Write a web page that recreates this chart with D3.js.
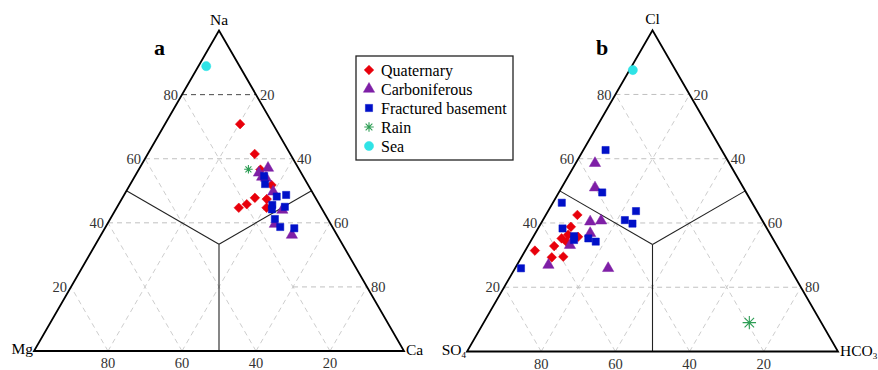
<!DOCTYPE html>
<html>
<head>
<meta charset="utf-8">
<script src="https://cdn.jsdelivr.net/npm/d3@7"></script>
<style>
  body { margin: 0; background: #fff; }
  text { font-family: "Liberation Serif", "DejaVu Serif", serif; }
</style>
</head>
<body>
<svg id="chart" width="878" height="370"></svg>
<script>
// values are [top, right] in percent, left = 100 - top - right
// panel a: top = Na, right = Ca, left = Mg
var quatA = [[70.8, 20.3], [61.5, 28.9], [56.6, 32.9], [51.8, 38.3], [47.8, 35.8],
  [45.8, 34.6], [44.7, 33.0], [47.4, 39.2], [44.7, 40.5]];
var carbA = [[57.1, 34.7], [55.6, 33.0], [54.3, 34.5], [54.0, 35.7], [49.7, 39.8],
  [44.0, 45.1], [39.6, 45.3], [36.2, 51.6]];
var fracA = [[54.6, 34.9], [52.1, 36.4], [48.2, 41.5], [48.7, 43.8], [45.6, 41.6],
  [44.2, 42.2], [45.0, 45.3], [41.2, 44.5], [38.7, 47.2], [38.3, 51.2]];
var rainA = [[56.7, 29.6]];
var seaA = [[88.9, 2.1]];

// panel b: top = Cl, right = HCO3, left = SO4
var quatB = [[42.5, 8.5], [38.8, 8.6], [35.7, 12.1], [35.2, 7.9], [34.1, 9.8],
  [36.3, 9.1], [32.8, 7.1], [31.4, 2.6], [29.3, 8.2], [29.5, 11.2]];
var carbB = [[58.6, 5.2], [51.0, 9.0], [40.4, 13.0], [40.7, 15.8], [36.8, 14.8],
  [33.1, 11.2], [26.9, 8.5], [25.9, 25.1]];
var fracB = [[62.7, 6.0], [49.5, 11.7], [46.3, 2.4], [43.7, 23.7], [40.9, 22.1],
  [39.8, 24.7], [38.3, 6.6], [35.9, 10.9], [34.7, 11.5], [35.2, 15.1],
  [34.2, 17.6], [25.9, 1.6]];
var rainB = [[9.0, 71.6]];
var seaB = [[87.6, 0.9]];

var gridTicks = [20, 40, 60, 80];
var seriesNames = ["Quaternary", "Carboniferous", "Fractured basement", "Rain", "Sea"];
var seriesColors = ["#e8000b", "#7e1fa6", "#0010c8", "#2e9e55", "#2fe3e6"];

var svg = d3.select("#chart");
var H = Math.sqrt(3) / 2;

// 8-arm asterisk
var asterisk = {
  draw: function (ctx, size) {
    var r = Math.sqrt(size) / 2;
    for (var i = 0; i < 4; i++) {
      var a = i * Math.PI / 4;
      ctx.moveTo(-r * Math.cos(a), -r * Math.sin(a));
      ctx.lineTo(r * Math.cos(a), r * Math.sin(a));
    }
  }
};
var symbols = [
  { type: d3.symbolSquare, size: 46, rot: 45, fill: true },
  { type: d3.symbolTriangle, size: 55, rot: 0, fill: true },
  { type: d3.symbolSquare, size: 52, rot: 0, fill: true },
  { type: asterisk, size: 90, rot: 0, fill: false },
  { type: d3.symbolCircle, size: 66, rot: 0, fill: true }
];

function drawMark(sel, i, scale) {
  var s = symbols[i];
  sel.append("path")
    .attr("d", d3.symbol().type(s.type).size(s.size * (scale || 1))())
    .attr("transform", function (d) { return "translate(" + d[0] + "," + d[1] + ") rotate(" + s.rot + ")"; })
    .attr("fill", s.fill ? seriesColors[i] : "none")
    .attr("stroke", seriesColors[i])
    .attr("stroke-width", s.fill ? 0.5 : 1.1);
}

function ternary(cfg) {
  var side = cfg.side;
  var t = d3.scaleLinear().domain([0, 100]).range([0, side]);
  function pt(top, right) {
    return [cfg.x0 + t(right) + t(top) / 2, cfg.y0 - t(top) * H];
  }
  var g = svg.append("g");
  var line = d3.line();

  // dashed grid
  gridTicks.forEach(function (v) {
    var hStart = cfg.partial[v] != null ? cfg.partial[v] : 0;
    var dark = cfg.dark.indexOf(v) >= 0;
    g.append("path").attr("d", line([pt(v, hStart), pt(v, 100 - v)]))
      .attr("stroke", dark ? "#333" : "#b0b0b0").attr("stroke-dasharray", "5,4")
      .attr("stroke-width", dark ? 0.9 : 0.8).attr("fill", "none");
    g.append("path").attr("d", line([pt(0, v), pt(100 - v, v)]))
      .attr("stroke", "#c0c0c0").attr("stroke-dasharray", "5,4").attr("stroke-width", 0.8);
    g.append("path").attr("d", line([pt(0, 100 - v), pt(100 - v, 0)]))
      .attr("stroke", "#c0c0c0").attr("stroke-dasharray", "5,4").attr("stroke-width", 0.8);
  });

  // facies division lines
  var c = pt(100 / 3, 100 / 3);
  [[50, 0], [50, 50], [0, 50]].forEach(function (p) {
    g.append("path").attr("d", line([c, pt(p[0], p[1])]))
      .attr("stroke", "#222").attr("stroke-width", 1.1).attr("fill", "none");
  });

  // outer triangle
  g.append("path").attr("d", line([pt(0, 0), pt(0, 100), pt(100, 0)]) + "Z")
    .attr("fill", "none").attr("stroke", "#000").attr("stroke-width", 1.8);

  // tick labels
  var fs = 14.5;
  gridTicks.forEach(function (v) {
    var p = pt(v, 0);
    g.append("text").attr("x", p[0] - 4).attr("y", p[1]).attr("dy", "0.35em")
      .attr("text-anchor", "end").attr("font-size", fs).attr("fill", "#333").text(v);
    p = pt(100 - v, v);
    g.append("text").attr("x", p[0] + 4).attr("y", p[1]).attr("dy", "0.35em")
      .attr("text-anchor", "start").attr("font-size", fs).attr("fill", "#333").text(v);
    p = pt(0, v);
    g.append("text").attr("x", p[0]).attr("y", p[1] + 17)
      .attr("text-anchor", "middle").attr("font-size", fs).attr("fill", "#333").text(100 - v);
  });

  // corner labels
  var apex = pt(100, 0);
  g.append("text").attr("x", apex[0]).attr("y", apex[1] - 6).attr("text-anchor", "middle")
    .attr("font-size", 15.5).text(cfg.top);
  var bl = pt(0, 0);
  var tl = g.append("text").attr("x", bl[0] - 1).attr("y", bl[1] + 3).attr("text-anchor", "end")
    .attr("font-size", 15.5);
  tl.append("tspan").text(cfg.left[0]);
  if (cfg.left[1]) tl.append("tspan").attr("font-size", 9).attr("dy", 3).text(cfg.left[1]);
  var br = pt(0, 100);
  var tr = g.append("text").attr("x", br[0] + 2).attr("y", br[1] + 4).attr("text-anchor", "start")
    .attr("font-size", 15.5);
  tr.append("tspan").text(cfg.right[0]);
  if (cfg.right[1]) tr.append("tspan").attr("font-size", 9).attr("dy", 3).text(cfg.right[1]);

  // panel letter
  g.append("text").attr("x", cfg.letterX).attr("y", 55).attr("font-size", 22)
    .attr("font-weight", "bold").text(cfg.letter);

  // points
  cfg.series.forEach(function (data, i) {
    var sel = g.append("g").selectAll("path").data(data.map(function (d) { return pt(d[0], d[1]); }));
    drawMark(sel.enter(), i, i === 3 ? cfg.rainScale : 1);
  });
}

ternary({
  x0: 34, y0: 351, side: 370, top: "Na", left: ["Mg"], right: ["Ca"],
  letter: "a", letterX: 154, dark: [80], partial: { 20: 60 }, rainScale: 0.8,
  series: [quatA, carbA, fracA, rainA, seaA]
});
ternary({
  x0: 467, y0: 351.5, side: 371, top: "Cl", left: ["SO", "4"], right: ["HCO", "3"],
  letter: "b", letterX: 596, dark: [], partial: {}, rainScale: 2,
  series: [quatB, carbB, fracB, rainB, seaB]
});

// legend
var lg = svg.append("g").attr("transform", "translate(356,56)");
lg.append("rect").attr("width", 157).attr("height", 104)
  .attr("fill", "#fff").attr("stroke", "#222").attr("stroke-width", 1.3);
var ly = d3.scalePoint().domain(seriesNames).range([14, 90]);
seriesNames.forEach(function (name, i) {
  var sel = lg.append("g").selectAll("path").data([[13, ly(name)]]).enter();
  drawMark(sel, i, 1);
  lg.append("text").attr("x", 25).attr("y", ly(name)).attr("dy", "0.35em")
    .attr("font-size", 16).text(name);
});
</script>
</body>
</html>
